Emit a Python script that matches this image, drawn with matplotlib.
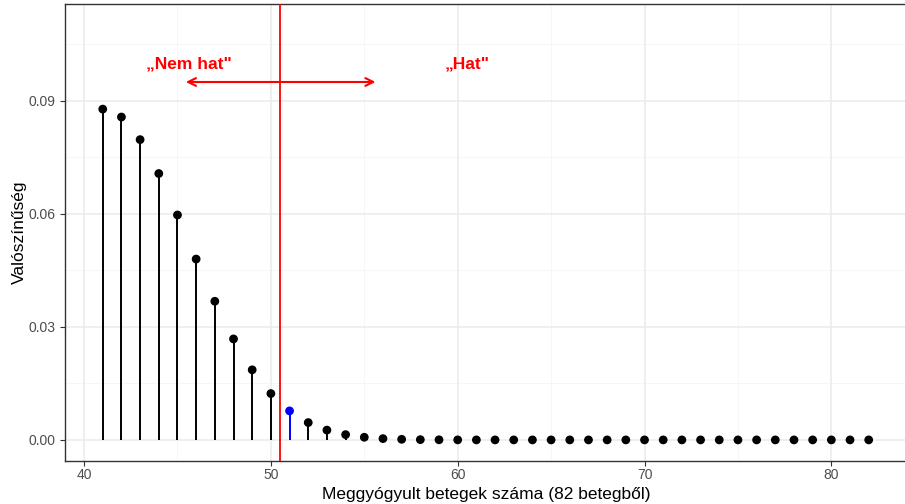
import numpy as np
import matplotlib.pyplot as plt

plt.rcParams['font.family'] = ['Liberation Sans', 'DejaVu Sans']

# number of recovered patients (out of 82) and probabilities
k = list(range(41, 83))
prob = [0.0878, 0.0857, 0.0797, 0.0707, 0.0597, 0.0480, 0.0368, 0.0268,
        0.0186, 0.0123, 0.0077, 0.0046, 0.0026, 0.0014, 0.0007, 0.00034,
        0.00016, 0.00007, 0.00003, 0.00001] + [0.0] * 22
highlight = 51
cutoff = 50.5

fig = plt.figure(figsize=(9.05, 5.04), dpi=100)
ax = fig.add_axes([65 / 905, 43 / 504, 842 / 905, 457 / 504])

# grid like theme_bw
for y in [0.015, 0.045, 0.075, 0.105]:
    ax.axhline(y, color='#F5F5F5', lw=0.6, zorder=0)
for x in [45, 55, 65, 75]:
    ax.axvline(x, color='#F5F5F5', lw=0.6, zorder=0)
ax.grid(True, color='#EBEBEB', lw=1.1, zorder=0)
ax.set_axisbelow(True)

cols = ['blue' if x == highlight else 'black' for x in k]
ax.vlines(k, 0, prob, colors=cols, lw=1.4, zorder=2)
ax.scatter(k, prob, c=cols, s=28, zorder=3)

ax.axvline(cutoff, color='red', lw=1.3, zorder=4)
ax.annotate('', xy=(45.45, 0.095), xytext=(55.6, 0.095),
            arrowprops=dict(arrowstyle='<->', color='red', lw=1.5,
                            mutation_scale=14, shrinkA=0, shrinkB=0))
ax.text(45.6, 0.0998, '„Nem hat"', color='red', fontsize=12.5,
        fontweight='bold', ha='center', va='center')
ax.text(60.5, 0.0998, '„Hat"', color='red', fontsize=12.5,
        fontweight='bold', ha='center', va='center')

ax.set_xlim(38.98, 84.05)
ax.set_ylim(-0.0056, 0.1157)
ax.set_xticks([40, 50, 60, 70, 80])
ax.set_yticks([0.0, 0.03, 0.06, 0.09])
ax.set_yticklabels(['0.00', '0.03', '0.06', '0.09'])
ax.tick_params(colors='#333333', labelcolor='#4D4D4D', labelsize=10,
               length=3.5, width=0.8)
ax.tick_params(axis='x', pad=1.5)
for s in ax.spines.values():
    s.set_color('#333333')
    s.set_linewidth(1.0)

ax.set_xlabel('Meggyógyult betegek száma (82 betegből)', fontsize=12.5,
              labelpad=4)
ax.set_ylabel('Valószínűség', fontsize=12.5, labelpad=1)

fig.savefig('out.png', dpi=100)
